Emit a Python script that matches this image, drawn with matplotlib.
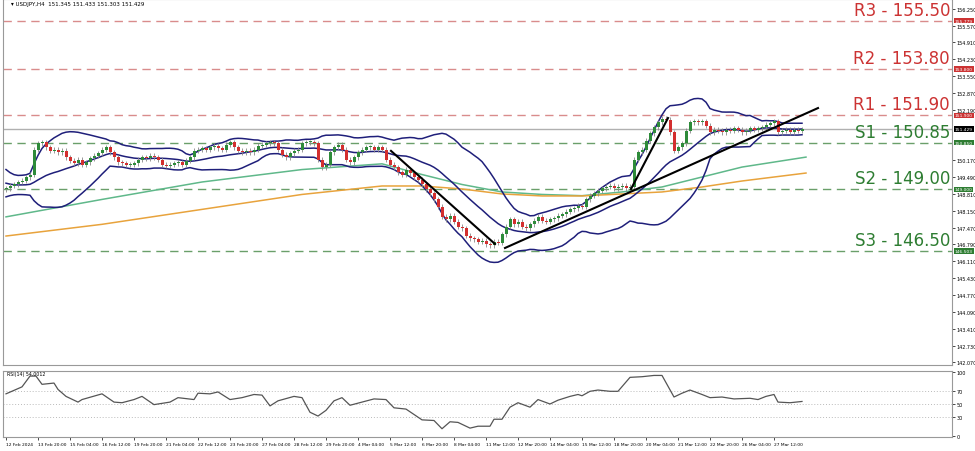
import numpy as np
import pandas as pd
import matplotlib
matplotlib.use("Agg")
import matplotlib.pyplot as plt

# ---------------- data ----------------
history = [149.9,149.7,149.5,149.3,149.4,149.2,149.0,148.9,149.1,149.0,
           149.3,149.5,149.6,149.4,149.2,149.1,149.0,148.9,149.0]
closes = [149.05,149.15,149.2,149.3,149.35,149.5,149.6,150.6,150.85,150.9,
          150.7,150.55,150.6,150.5,150.55,150.3,150.15,150.05,150.2,150.0,
          150.1,150.25,150.35,150.45,150.6,150.7,150.5,150.3,150.1,150.05,
          150.0,150.0,150.05,150.2,150.3,150.25,150.35,150.3,150.2,150.0,
          149.95,150.0,150.05,150.1,150.0,150.15,150.3,150.55,150.6,150.65,
          150.6,150.7,150.75,150.65,150.6,150.8,150.9,150.7,150.55,150.5,
          150.55,150.5,150.6,150.75,150.8,150.85,150.9,150.85,150.6,150.4,
          150.3,150.45,150.55,150.6,150.85,150.9,150.9,150.85,150.2,149.9,
          150.0,150.5,150.7,150.8,150.6,150.2,150.1,150.3,150.5,150.6,
          150.7,150.7,150.6,150.7,150.6,150.2,150.0,149.9,149.7,149.6,
          149.8,149.65,149.5,149.4,149.2,149.0,148.85,148.6,148.3,147.9,
          147.8,147.95,147.7,147.5,147.45,147.15,147.05,147.0,146.9,146.95,
          146.8,146.75,146.9,146.85,147.2,147.5,147.8,147.6,147.7,147.5,
          147.45,147.6,147.75,147.9,147.75,147.7,147.8,147.85,147.95,148.0,
          148.1,148.2,148.25,148.35,148.3,148.6,148.75,148.85,148.95,149.05,
          149.1,149.15,149.05,149.1,149.15,149.05,149.1,150.2,150.5,150.6,
          150.95,151.25,151.5,151.7,151.85,151.8,151.3,150.55,150.7,150.85,
          151.35,151.7,151.75,151.7,151.75,151.55,151.3,151.4,151.35,151.3,
          151.4,151.35,151.45,151.4,151.3,151.35,151.45,151.4,151.45,151.5,
          151.6,151.65,151.75,151.3,151.35,151.4,151.3,151.4,151.35,151.429]

ma_bars = [0,24,49,74,94,104,114,124,134,144,154,164,174,184,194,200]
ma_green = [147.9,148.6,149.3,149.8,150.03,149.6,149.2,148.9,148.8,148.75,148.9,149.1,149.5,149.9,150.15,150.3]
ma_orange = [147.13,147.6,148.2,148.8,149.14,149.14,149.02,148.82,148.74,148.74,148.82,148.9,149.1,149.34,149.54,149.66]

rsi_bars = [0,4,6,7.5,9,12,13,15,18,19,
            24,27,29,32,34,37,41,43,47,48,
            51,53,56,59,62,64,66,68,72,74,
            76,78,80,82,84,86,89,92,95,97,
            100,104,107,109,111,113,116,118,121,122,
            124,126,128,131,133,136,138,141,143,144,
            146,148,151,153,156,159,162,164,167,169,
            171,174,176,179,182,186,188,190,192,193,
            196,199]
rsi_vals = [66,77,94,94,81,83,73,62,53,57,
            66,53,52,57,62,49,53,60,57,67,
            66,69,57,60,65,64,47,55,62,60,
            37,31,40,55,60,48,53,58,57,44,
            42,25,24,11,22,21,12,15,15,26,
            26,45,52,45,57,50,56,62,65,63,
            70,72,70,70,92,93,95,95,61,67,
            72,65,60,61,58,59,57,62,65,53,
            52,54]

levels = [155.78, 153.84, 151.98, 150.88, 149.0, 146.53]
level_text = ["R3 - 155.50", "R2 - 153.80", "R1 - 151.90", "S1 - 150.85", "S2 - 149.00", "S3 - 146.50"]
level_tag = ["155.779", "153.800", "151.900", "150.850", "149.000", "146.503"]

trend_x = [[96.25, 122.25], [124.75, 203], [156.25, 165.5]]
trend_y = [[150.55, 146.81], [146.65, 152.27], [149.02, 151.87]]

price_ticks = [156.250,155.570,154.910,154.230,153.550,152.870,152.190,150.170,149.490,
               148.810,148.150,147.470,146.790,146.110,145.430,144.770,144.090,143.410,142.730,142.070]
date_labels = ["12 Feb 2024","13 Feb 20:00","15 Feb 04:00","16 Feb 12:00","19 Feb 20:00",
               "21 Feb 04:00","22 Feb 12:00","23 Feb 20:00","27 Feb 04:00","28 Feb 12:00",
               "29 Feb 20:00","4 Mar 04:00","5 Mar 12:00","6 Mar 20:00","8 Mar 04:00",
               "11 Mar 12:00","12 Mar 20:00","14 Mar 04:00","15 Mar 12:00","18 Mar 20:00",
               "20 Mar 04:00","21 Mar 12:00","22 Mar 20:00","26 Mar 04:00","27 Mar 12:00"]

# ---------------- derived ----------------
c = np.array(closes)
o = np.concatenate([[history[-1]], c[:-1]])
n = len(c)
idx = np.arange(n)
full = pd.Series(history + closes)
mid = full.rolling(20).mean().values[len(history):]
sd = full.rolling(20).std(ddof=0).values[len(history):]
up, lo = mid + 2 * sd, mid - 2 * sd

W, H = 975, 452
fig = plt.figure(figsize=(W / 100, H / 100), dpi=100)
XL = (-0.75, 236.5)
ax = fig.add_axes([3 / W, 1 - 366 / H, 949 / W, 366 / H])
ax.set_xlim(*XL)
ax.set_ylim(141.95, 156.65)

red, green = "#cc3333", "#2e7d32"
for lv, t, tag in zip(levels, level_text, level_tag):
    col = red if t.startswith("R") else green
    ax.axhline(lv, color="#d98c8c" if col == red else "#6a9f6a", ls=(0, (6, 4)), lw=1)
    ax.text(0.998, lv + 0.08, t, transform=ax.get_yaxis_transform(), ha="right", va="bottom",
            color=col, fontsize=12)
    ax.text(1.003, lv, tag, transform=ax.get_yaxis_transform(), ha="left", va="center",
            fontsize=3.2, color="white", bbox=dict(boxstyle="square,pad=0.15", fc=col, ec="none"), clip_on=False)

ax.axhline(closes[-1], color="#b0b0b0", lw=1)
ax.text(1.003, closes[-1], f"{closes[-1]:.3f}", transform=ax.get_yaxis_transform(), ha="left",
        va="center", fontsize=3.2, color="white", bbox=dict(boxstyle="square,pad=0.15", fc="black", ec="none"), clip_on=False)

ax.plot(ma_bars, ma_green, color="#5fb88a", lw=1.1)
ax.plot(ma_bars, ma_orange, color="#e8a33c", lw=1.1)
for band in (up, mid, lo):
    ax.plot(idx, band, color="#1f1f7a", lw=1.1)

for i in range(n):
    bull = c[i] >= o[i]
    col = "#2e8b3a" if bull else "#d32f2f"
    lo_b, hi_b = min(o[i], c[i]), max(o[i], c[i])
    ax.vlines(i, lo_b - 0.1, hi_b + 0.1, color="#888888", lw=0.6, zorder=3)
    ax.bar(i, max(hi_b - lo_b, 0.04), bottom=lo_b, width=0.75, color=col, lw=0, zorder=4)

for tx, ty in zip(trend_x, trend_y):
    ax.plot(tx, ty, color="black", lw=1.5, zorder=5)

ax.yaxis.tick_right()
ax.set_yticks(price_ticks)
ax.set_yticklabels([f"{v:.3f}" for v in price_ticks], fontsize=3.5)
ax.tick_params(axis="y", length=2, width=0.5, pad=1)
ax.set_xticks([])
for s in ax.spines.values():
    s.set_color("#999999"); s.set_linewidth(0.8)
ax.text(0.008, 0.995, "\u25be USDJPY,H4  151.345 151.433 151.303 151.429", transform=ax.transAxes,
        fontsize=4, va="top", ha="left")

# RSI
ax2 = fig.add_axes([3 / W, 1 - 438 / H, 949 / W, 66 / H])
ax2.set_xlim(*XL)
ax2.set_ylim(-2, 102)
for lv in (30, 50, 70):
    ax2.axhline(lv, color="#bbbbbb", ls=(0, (1, 2)), lw=0.7)
ax2.plot(rsi_bars, rsi_vals, color="#555555", lw=0.9)
ax2.yaxis.tick_right()
ax2.set_yticks([0, 30, 50, 70, 100])
ax2.set_yticklabels(["0", "30", "50", "70", "100"], fontsize=3.5)
ax2.tick_params(axis="y", length=2, width=0.5, pad=1)
ax2.set_xticks(np.arange(len(date_labels)) * 8)
ax2.set_xticklabels(date_labels, fontsize=3.2, ha="left")
ax2.tick_params(axis="x", length=2, width=0.5, pad=1.5)
for s in ax2.spines.values():
    s.set_color("#999999"); s.set_linewidth(0.8)
ax2.text(0.004, 1.0, "RSI(14) 54.0012", transform=ax2.transAxes, fontsize=3.4, va="top", ha="left")

fig.savefig("out.png", dpi=100)
